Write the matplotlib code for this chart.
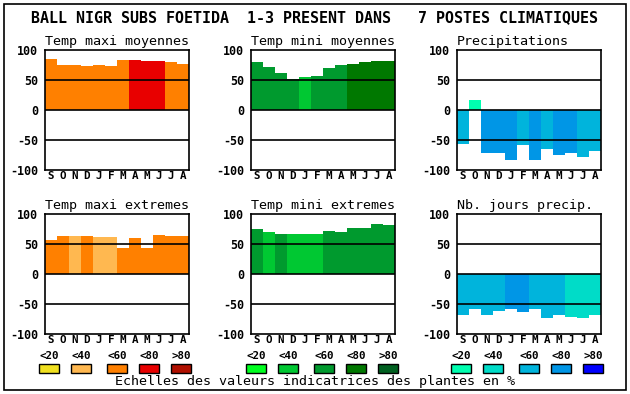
import matplotlib
matplotlib.use("Agg")
import matplotlib.pyplot as plt
from matplotlib.patches import Rectangle

plt.rcParams['font.family'] = ['DejaVu Sans Mono']

# Data
months = ["S", "O", "N", "D", "J", "F", "M", "A", "M", "J", "J", "A"]
scale_labels = ["<20", "<40", "<60", "<80", ">80"]

warm = ["#f0e020", "#ffb850", "#ff8000", "#e80000", "#b01000"]
green = ["#00ff20", "#00c832", "#009a2e", "#007800", "#006020"]
blue = ["#00ffb0", "#00dcc8", "#00b4dc", "#0096e6", "#0000ff"]

tmax_moy = [85, 75, 75, 73, 75, 73, 83, 83, 82, 82, 80, 77]
tmax_moy_cls = [2, 2, 2, 2, 2, 2, 2, 3, 3, 3, 2, 2]

tmin_moy = [80, 72, 62, 52, 55, 57, 70, 75, 77, 80, 82, 82]
tmin_moy_cls = [2, 2, 2, 2, 1, 2, 2, 2, 3, 3, 3, 3]

precip = [-57, 17, -72, -72, -83, -58, -83, -65, -75, -72, -78, -68]
precip_cls = [2, 0, 3, 3, 3, 2, 3, 2, 3, 3, 2, 2]

tmax_ext = [57, 63, 63, 63, 62, 62, 43, 60, 43, 65, 63, 63]
tmax_ext_cls = [2, 2, 1, 2, 1, 1, 2, 2, 2, 2, 2, 2]

tmin_ext = [75, 70, 67, 67, 67, 67, 72, 70, 77, 77, 83, 82]
tmin_ext_cls = [2, 1, 2, 1, 1, 1, 2, 2, 2, 2, 2, 2]

jours = [-68, -58, -68, -62, -58, -63, -58, -73, -68, -72, -73, -68]
jours_cls = [2, 2, 2, 2, 3, 3, 2, 2, 2, 1, 1, 1]

panels = [
    ("Temp maxi moyennes", tmax_moy, tmax_moy_cls, warm, 45, 50),
    ("Temp mini moyennes", tmin_moy, tmin_moy_cls, green, 251, 50),
    ("Precipitations", precip, precip_cls, blue, 457, 50),
    ("Temp maxi extremes", tmax_ext, tmax_ext_cls, warm, 45, 214),
    ("Temp mini extremes", tmin_ext, tmin_ext_cls, green, 251, 214),
    ("Nb. jours precip.", jours, jours_cls, blue, 457, 214),
]

W, H = 630, 394
fig = plt.figure(figsize=(W / 100, H / 100), dpi=100)


def fx(px):
    return px / W


def fy(py):
    return 1 - py / H


# outer frame
fig.patches.append(Rectangle((fx(4), fy(390)), fx(622), 386 / H, transform=fig.transFigure,
                             fill=False, edgecolor="black", linewidth=1.2))

fig.text(fx(31), fy(18), "BALL NIGR SUBS FOETIDA  1-3 PRESENT DANS   7 POSTES CLIMATIQUES",
         fontsize=10.8, fontweight="bold", va="center", ha="left")

for title, vals, cls, pal, x0, y0 in panels:
    ax = fig.add_axes([fx(x0), fy(y0 + 120), fx(144), 120 / H])
    ax.bar(range(12), vals, width=1.0, align="edge", color=[pal[c] for c in cls], linewidth=0)
    for yv in (50, 0, -50):
        ax.axhline(yv, color="black", linewidth=1.2)
    ax.set_xlim(0, 12)
    ax.set_ylim(-100, 100)
    ax.set_yticks([100, 50, 0, -50, -100])
    ax.set_yticklabels(["100", "50", "0", "-50", "-100"], fontweight="bold", fontsize=8.4)
    ax.set_xticks([i + 0.5 for i in range(12)])
    ax.set_xticklabels(months, fontweight="bold", fontsize=7.8)
    ax.tick_params(length=0)
    ax.tick_params(axis="y", pad=5)
    ax.tick_params(axis="x", pad=1)
    for s in ax.spines.values():
        s.set_linewidth(1.2)
    ax.text(0, 1.02, title, transform=ax.transAxes, fontsize=9.6, ha="left", va="bottom")

# colour scales
for pal, start in [(warm, 39), (green, 246), (blue, 451)]:
    offsets = [0, 32, 68, 100, 132]
    for i, (c, lab) in enumerate(zip(pal, scale_labels)):
        bx = start + offsets[i]
        fig.patches.append(Rectangle((fx(bx), fy(373)), fx(20), 9 / H, transform=fig.transFigure,
                                     facecolor=c, edgecolor="black", linewidth=1))
        fig.text(fx(bx + 10), fy(356), lab, fontsize=7.8, fontweight="bold", ha="center", va="center")

fig.text(fx(315), fy(382), "Echelles des valeurs indicatrices des plantes en %",
         fontsize=9.6, ha="center", va="center")

fig.savefig("out.png", dpi=100)
